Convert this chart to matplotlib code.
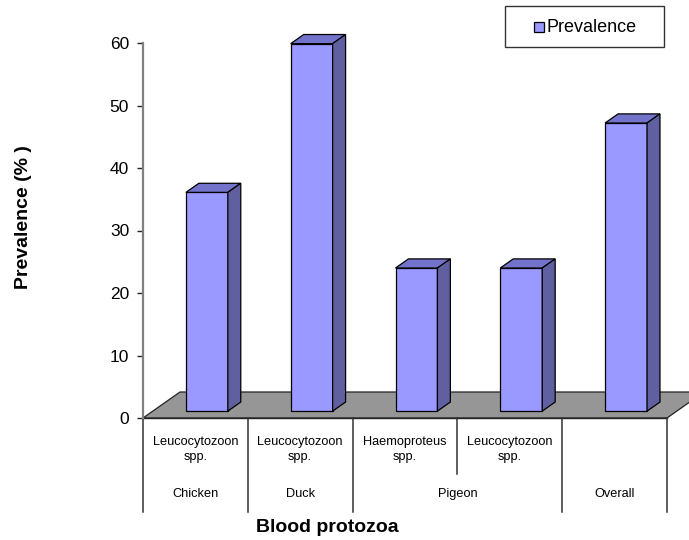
import matplotlib
matplotlib.use("Agg")
import matplotlib.pyplot as plt
from matplotlib.patches import Polygon, Rectangle
from matplotlib.transforms import blended_transform_factory

plt.rcParams['font.family'] = ['Liberation Sans', 'DejaVu Sans']

# Data
species = ["Leucocytozoon\nspp.", "Leucocytozoon\nspp.", "Haemoproteus\nspp.",
           "Leucocytozoon\nspp.", ""]
hosts = ["Chicken", "Duck", "Pigeon", "Overall"]
host_spans = [(0, 1), (1, 2), (2, 4), (4, 5)]
prevalence = [35.0, 58.8, 22.9, 22.9, 46.1]
yticks = [0, 10, 20, 30, 40, 50, 60]

W, H = 689, 540
fig = plt.figure(figsize=(W / 100, H / 100), dpi=100)
ax = fig.add_axes([143 / W, (H - 418) / H, 524 / W, 375 / H])
ax.set_xlim(0, len(prevalence))
ax.set_ylim(0, 60)

# 3-D look: floor depth and bar depth expressed in axis units
floor_dx, floor_dy = 0.353, 4.16
f_front, f_back = 0.31, 0.66
bar_w = 0.4

front_col = "#9999FF"
top_col = "#7373CC"
side_col = "#6060A0"

# floor
floor = Polygon([(0, 0), (5, 0), (5 + floor_dx, floor_dy), (floor_dx, floor_dy)],
                closed=True, facecolor="#969696", edgecolor="#222222",
                linewidth=0.9, clip_on=False, zorder=1)
ax.add_patch(floor)

base = 1.1
xoff = f_front * floor_dx
sdx = (f_back - f_front) * floor_dx
sdy = (f_back - f_front) * floor_dy

lefts = [i + (1 - bar_w) / 2 + xoff for i in range(len(prevalence))]
bars = ax.bar(lefts, prevalence, width=bar_w, bottom=base, align="edge",
              color=front_col, edgecolor="black", linewidth=0.9, zorder=3,
              clip_on=False)

for x0, v in zip(lefts, prevalence):
    x1 = x0 + bar_w
    top = base + v
    ax.add_patch(Polygon([(x0, top), (x1, top), (x1 + sdx, top + sdy), (x0 + sdx, top + sdy)],
                         closed=True, facecolor=top_col, edgecolor="black",
                         linewidth=0.9, clip_on=False, zorder=3))
    ax.add_patch(Polygon([(x1, base), (x1 + sdx, base + sdy), (x1 + sdx, top + sdy), (x1, top)],
                         closed=True, facecolor=side_col, edgecolor="black",
                         linewidth=0.9, clip_on=False, zorder=3))

# axes styling
for s in ["top", "right", "bottom"]:
    ax.spines[s].set_visible(False)
ax.spines["left"].set_color("#808080")
ax.spines["left"].set_linewidth(1.6)
ax.set_yticks(yticks)
ax.set_yticklabels([str(t) for t in yticks], fontsize=12.5)
ax.tick_params(axis="y", direction="out", length=4, width=1, color="#222222", pad=6)
ax.set_xticks([])

# category table below the floor
tr = blended_transform_factory(ax.transData, ax.transAxes)
px = 1 / 375.0
row_bottom = -(512 - 418) * px
mid_bottom = -(474 - 418) * px
ax.plot([0, 5], [0, 0], color="#222222", lw=1.0, transform=tr, clip_on=False, zorder=2)
for xb in [0, 1, 2, 4, 5]:
    ax.plot([xb, xb], [0, row_bottom], color="#333333", lw=1.1, transform=tr, clip_on=False)
ax.plot([3, 3], [0, mid_bottom], color="#333333", lw=1.1, transform=tr, clip_on=False)

for i, lab in enumerate(species):
    if lab:
        ax.text(i + 0.5, -(449.5 - 418) * px, lab, transform=tr, ha="center", va="center",
                fontsize=9.2, linespacing=1.3)
for (a, b), lab in zip(host_spans, hosts):
    ax.text((a + b) / 2, -(494 - 418) * px, lab, transform=tr, ha="center", va="center",
            fontsize=9.2)

# axis titles
fig.text(327 / W, (H - 527) / H, "Blood protozoa", ha="center", va="center",
         fontsize=14, fontweight="bold")
fig.text(24 / W, (H - 217) / H, "Prevalence (% )", ha="center", va="center",
         rotation=90, fontsize=14, fontweight="bold")

# legend box
fig.patches.append(Rectangle((505 / W, (H - 47) / H), 159 / W, 41 / H,
                             transform=fig.transFigure, facecolor="white",
                             edgecolor="#333333", linewidth=1.0))
fig.patches.append(Rectangle((534 / W, (H - 32) / H), 10 / W, 10 / H,
                             transform=fig.transFigure, facecolor=front_col,
                             edgecolor="black", linewidth=0.9))
fig.text(546 / W, (H - 27) / H, "Prevalence", ha="left", va="center", fontsize=13)

fig.savefig("out.png", dpi=100)
